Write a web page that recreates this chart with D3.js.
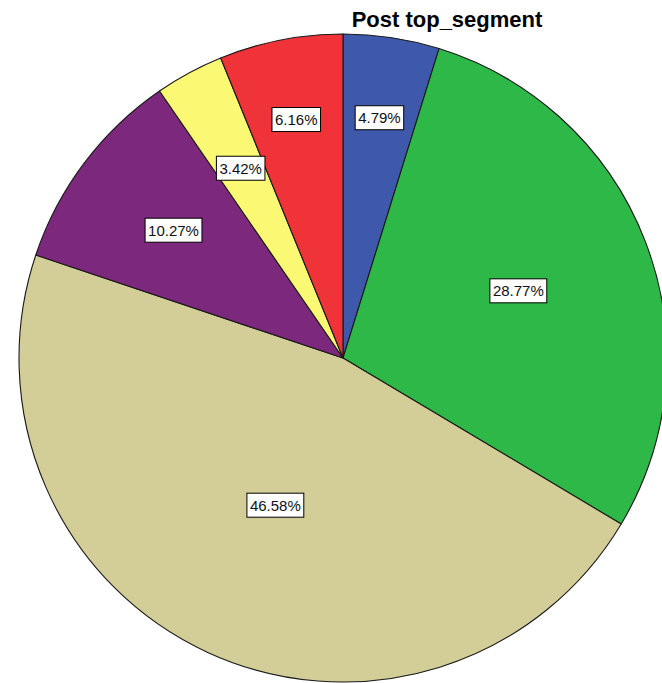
<!DOCTYPE html>
<html>
<head>
<meta charset="utf-8">
<script src="https://cdn.jsdelivr.net/npm/d3@7"></script>
<style>
  html, body { margin: 0; padding: 0; background: #fff; }
  svg { display: block; }
</style>
</head>
<body>
<svg id="chart" width="662" height="683"></svg>
<script>
// Share of cases per top segment, clockwise from 12 o'clock
const segments = ["1", "2", "3", "4", "5", "6"];
const percents = [4.79, 28.77, 46.58, 10.27, 3.42, 6.16];
const sliceColors = ["#3E58AC", "#2EB848", "#D3CE97", "#7C287D", "#FBF873", "#EF3338"];
const chartTitle = "Post top_segment";

const width = 662, height = 683;
const cx = 343, cy = 358, radius = 324;

const svg = d3.select("#chart");

svg.append("text")
  .attr("x", 447)
  .attr("y", 27)
  .attr("text-anchor", "middle")
  .attr("font-family", "Liberation Sans, Arial, sans-serif")
  .attr("font-weight", "bold")
  .attr("font-size", 22)
  .attr("fill", "#000")
  .text(chartTitle);

const data = segments.map((s, i) => ({ segment: s, value: percents[i], color: sliceColors[i] }));

const pie = d3.pie()
  .sort(null)
  .value(d => d.value);

const arcs = pie(data);

const arc = d3.arc()
  .innerRadius(0)
  .outerRadius(radius);

const g = svg.append("g").attr("transform", `translate(${cx},${cy})`);

g.selectAll("path.slice")
  .data(arcs)
  .join("path")
  .attr("class", "slice")
  .attr("d", arc)
  .attr("fill", d => d.data.color)
  .attr("stroke", "#1a1a1a")
  .attr("stroke-width", 1.1)
  .attr("stroke-linejoin", "round");

// Labels sit near the area centroid of each sector; mid-thin slices get pushed outward
function labelPos(d) {
  const half = (d.endAngle - d.startAngle) / 2;
  let k = (2 * Math.sin(half)) / (3 * half);
  if (half > 0.12 && half < 0.25) k = Math.max(k, 0.75);
  if (half > 1.2) k = 0.5;
  const mid = (d.startAngle + d.endAngle) / 2;
  const rr = radius * k;
  return [Math.sin(mid) * rr, -Math.cos(mid) * rr];
}

const fmt = v => v.toFixed(2) + "%";

const labels = g.selectAll("g.label")
  .data(arcs)
  .join("g")
  .attr("class", "label")
  .attr("transform", d => {
    const [x, y] = labelPos(d);
    return `translate(${x},${y})`;
  });

labels.each(function(d) {
  const sel = d3.select(this);
  const t = sel.append("text")
    .attr("text-anchor", "middle")
    .attr("dominant-baseline", "central")
    .attr("font-family", "Liberation Sans, Arial, sans-serif")
    .attr("font-size", 15)
    .attr("fill", "#111")
    .text(fmt(d.data.value));
  const bb = t.node().getBBox();
  sel.insert("rect", "text")
    .attr("x", bb.x - 3)
    .attr("y", -12)
    .attr("width", bb.width + 6)
    .attr("height", 24)
    .attr("fill", "#fff")
    .attr("stroke", "#000")
    .attr("stroke-width", 1);
});
</script>
</body>
</html>
